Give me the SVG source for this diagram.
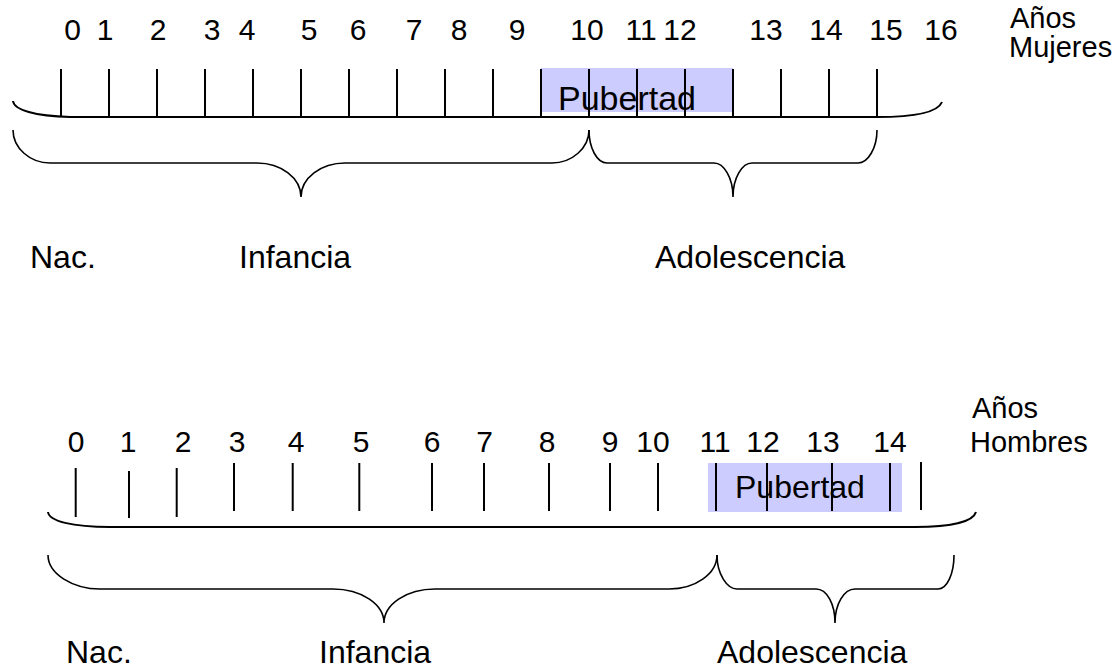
<svg xmlns="http://www.w3.org/2000/svg" width="1116" height="670" viewBox="0 0 1116 670">
  <style>
    text { font-family: "Liberation Sans", Arial, sans-serif; fill: #000; }
    .num { font-size: 30px; text-anchor: middle; }
    .word { font-size: 32px; }
    .axis-label { font-size: 29px; }
    .pub-box { fill: #CCCCFF; stroke: none; }
    .tick { stroke: #000; stroke-width: 2; }
    .axis { fill: none; stroke: #000; stroke-width: 2; }
    .brace { fill: none; stroke: #000; stroke-width: 1.6; }
  </style>

  <rect width="1116" height="670" fill="#fff"/>

  <!-- Timeline: girls -->
  <g id="mujeres-pubertad">
    <rect class="pub-box" x="541" y="68" width="192" height="44"/>
    <text x="558" y="110" style="font-size:34px">Pubertad</text>
  </g>

  <g id="mujeres-eje">
    <path class="axis" d="M13,101 C14,110 35,116 70,117 L877,117 C915,117 938,112 942,102"/>
    <g class="tick">
      <line x1="61" y1="69" x2="61" y2="117"/>
      <line x1="109" y1="69" x2="109" y2="117"/>
      <line x1="157" y1="69" x2="157" y2="117"/>
      <line x1="205" y1="69" x2="205" y2="117"/>
      <line x1="253" y1="69" x2="253" y2="117"/>
      <line x1="301" y1="69" x2="301" y2="117"/>
      <line x1="349" y1="69" x2="349" y2="117"/>
      <line x1="397" y1="69" x2="397" y2="117"/>
      <line x1="445" y1="69" x2="445" y2="117"/>
      <line x1="493" y1="69" x2="493" y2="117"/>
      <line x1="541" y1="69" x2="541" y2="117"/>
      <line x1="589" y1="69" x2="589" y2="117"/>
      <line x1="637" y1="69" x2="637" y2="117"/>
      <line x1="685" y1="69" x2="685" y2="117"/>
      <line x1="733" y1="69" x2="733" y2="117"/>
      <line x1="781" y1="69" x2="781" y2="117"/>
      <line x1="829" y1="69" x2="829" y2="117"/>
      <line x1="877" y1="69" x2="877" y2="117"/>
    </g>
  </g>

  <g id="mujeres-anios">
    <text class="num" x="72.5" y="40">0</text>
    <text class="num" x="105" y="40">1</text>
    <text class="num" x="158" y="40">2</text>
    <text class="num" x="212" y="40">3</text>
    <text class="num" x="247" y="40">4</text>
    <text class="num" x="309" y="40">5</text>
    <text class="num" x="358" y="40">6</text>
    <text class="num" x="414" y="40">7</text>
    <text class="num" x="459" y="40">8</text>
    <text class="num" x="517" y="40">9</text>
    <text class="num" x="587" y="40">10</text>
    <text class="num" x="641" y="40">11</text>
    <text class="num" x="680" y="40">12</text>
    <text class="num" x="766" y="40">13</text>
    <text class="num" x="826" y="40">14</text>
    <text class="num" x="886" y="40">15</text>
    <text class="num" x="941" y="40">16</text>
    <text class="axis-label" x="1010" y="28">Años</text>
    <text class="axis-label" x="1009" y="57">Mujeres</text>
  </g>

  <g id="mujeres-etapas">
    <path class="brace" d="M13,130 C13,148 30,163 50,163 L257,163 C281,163 301,178 301,197 C301,178 321,163 345,163 L552,163 C572,163 589,148 589,130"/>
    <path class="brace" d="M589,130 C589,148 597,163 607,163 L714,163 C724,163 733,178 733,197 C733,178 742,163 752,163 L858,163 C868,163 877,148 877,130"/>
    <text class="word" x="30" y="268">Nac.</text>
    <text class="word" x="239" y="268">Infancia</text>
    <text class="word" x="655" y="268">Adolescencia</text>
  </g>

  <!-- Timeline: boys -->
  <g id="hombres-pubertad">
    <rect class="pub-box" x="708" y="463" width="194" height="49"/>
    <text x="735" y="498" style="font-size:32px">Pubertad</text>
  </g>

  <g id="hombres-eje">
    <path class="axis" d="M48,512 C49,521 72,527 110,527 L915,527 C950,527 973,522 976,512"/>
    <g class="tick">
      <line x1="75.7" y1="468" x2="75.7" y2="517"/>
      <line x1="129" y1="471" x2="129" y2="518"/>
      <line x1="176.7" y1="468" x2="176.7" y2="517"/>
      <line x1="234" y1="463" x2="234" y2="511"/>
      <line x1="292.7" y1="463" x2="292.7" y2="511"/>
      <line x1="359.3" y1="463" x2="359.3" y2="511"/>
      <line x1="432" y1="463" x2="432" y2="511"/>
      <line x1="484" y1="463" x2="484" y2="511"/>
      <line x1="549" y1="463" x2="549" y2="511"/>
      <line x1="610" y1="463" x2="610" y2="511"/>
      <line x1="658" y1="463" x2="658" y2="511"/>
      <line x1="716" y1="463" x2="716" y2="511"/>
      <line x1="767" y1="463" x2="767" y2="511"/>
      <line x1="832" y1="463" x2="832" y2="511"/>
      <line x1="890" y1="463" x2="890" y2="511"/>
      <line x1="921" y1="462" x2="921" y2="510"/>
    </g>
  </g>

  <g id="hombres-anios">
    <text class="num" x="76" y="452">0</text>
    <text class="num" x="128" y="452">1</text>
    <text class="num" x="183" y="452">2</text>
    <text class="num" x="237" y="452">3</text>
    <text class="num" x="296" y="452">4</text>
    <text class="num" x="361" y="452">5</text>
    <text class="num" x="432" y="452">6</text>
    <text class="num" x="484.5" y="452">7</text>
    <text class="num" x="547" y="452">8</text>
    <text class="num" x="610" y="452">9</text>
    <text class="num" x="653" y="452">10</text>
    <text class="num" x="715" y="452">11</text>
    <text class="num" x="763" y="452">12</text>
    <text class="num" x="823" y="452">13</text>
    <text class="num" x="890" y="452">14</text>
    <text class="axis-label" x="972" y="418">Años</text>
    <text class="axis-label" x="970" y="452">Hombres</text>
  </g>

  <g id="hombres-etapas">
    <path class="brace" d="M48,555 C48,574 73,589 100,589 L333,589 C361,589 384,604 384,623 C384,604 407,589 435,589 L669,589 C695,589 717,574 717,555"/>
    <path class="brace" d="M717,555 C717,574 727,589 737,589 L816,589 C827,589 835,604 835,623 C835,604 844,589 855,589 L938,589 C947,589 954,574 954,555"/>
    <text class="word" x="66" y="663">Nac.</text>
    <text class="word" x="319" y="663">Infancia</text>
    <text class="word" x="717" y="663">Adolescencia</text>
  </g>
</svg>
